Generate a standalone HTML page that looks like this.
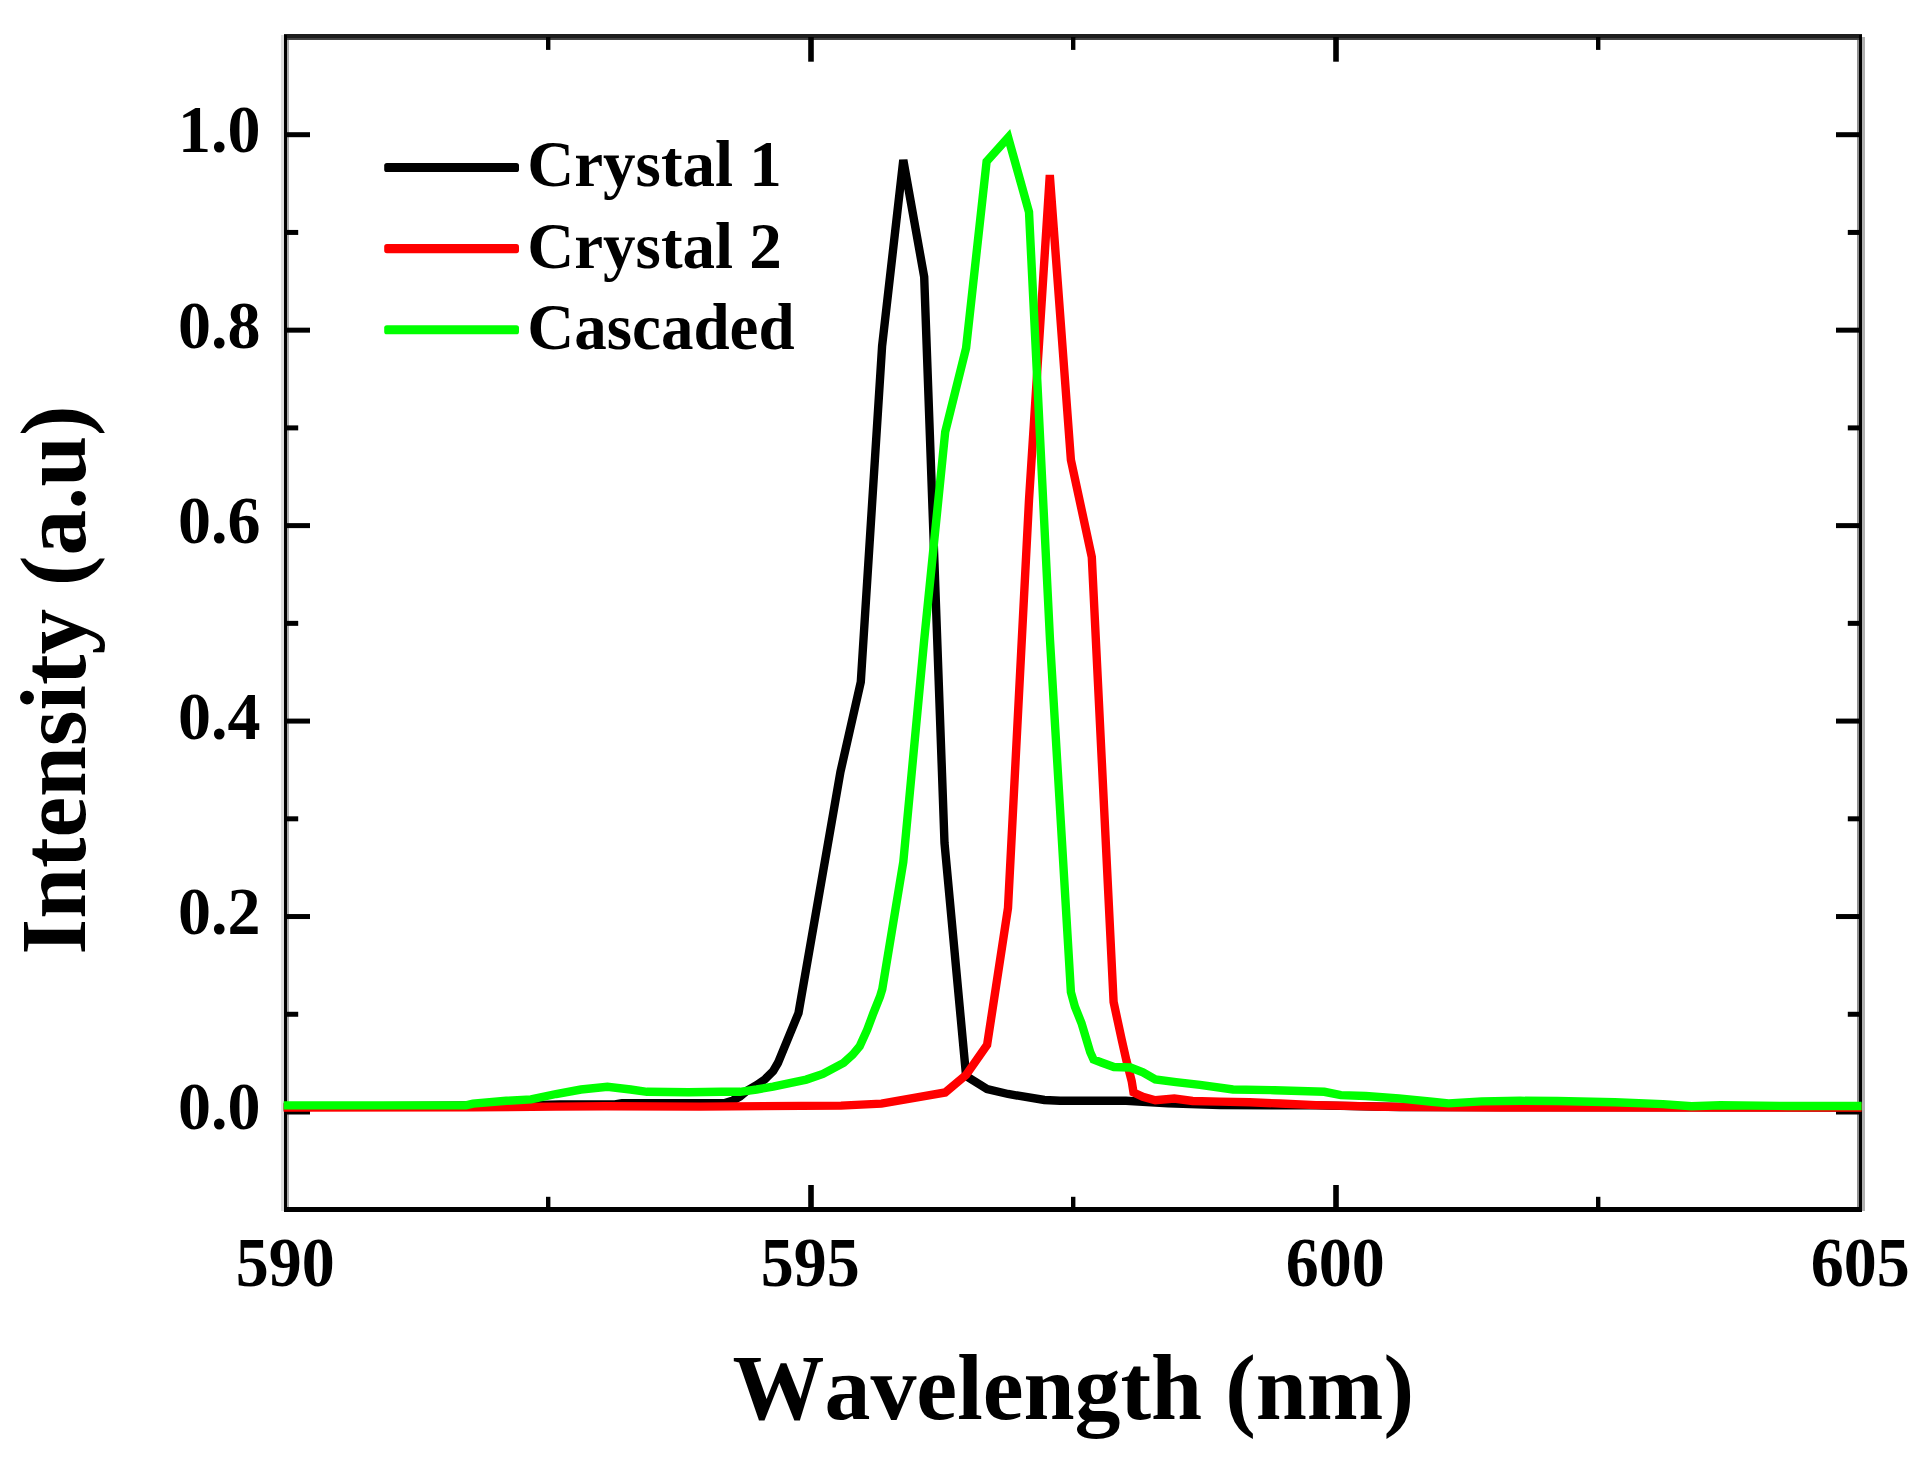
<!DOCTYPE html>
<html lang="en"><head><meta charset="utf-8"><title>Spectra of Crystal 1, Crystal 2 and Cascaded</title>
<style>
html,body{margin:0;padding:0;background:#fff;}
body{width:1931px;height:1468px;overflow:hidden;}
svg{display:block;}
text{font-family:"Liberation Serif",serif;font-weight:bold;fill:#000;font-kerning:none;}
</style></head><body>
<svg width="1931" height="1468" viewBox="0 0 1931 1468">
<rect x="0" y="0" width="1931" height="1468" fill="#fff"/>
<defs><clipPath id="plot"><rect x="283.7" y="37.2" width="1577.9" height="1172.3"/></clipPath></defs>
<g shape-rendering="crispEdges">
<rect x="283.8" y="34.4" width="1578.2" height="3.3" fill="#1e1e1e"/>
<rect x="283.8" y="37.7" width="1578.2" height="2.4" fill="#444"/>
<rect x="283.8" y="1206.8" width="1578.2" height="5.4" fill="#000"/>
<rect x="281.2" y="35" width="2.6" height="1176" fill="#dedede"/>
<rect x="286.5" y="40" width="2.5" height="1167" fill="#acacac"/>
<rect x="283.8" y="35" width="2.7" height="1177.2" fill="#000"/>
<rect x="1856.6" y="40" width="2.4" height="1167" fill="#909090"/>
<rect x="1862" y="37" width="2.7" height="1174" fill="#b0b0b0"/>
<rect x="1859" y="35" width="3" height="1177.2" fill="#000"/>
</g>
<g stroke="#000" stroke-width="5" fill="none">
<line x1="548.20" y1="1209" x2="548.20" y2="1196.8" stroke-width="4.4"/>
<line x1="548.20" y1="37" x2="548.20" y2="49.9" stroke-width="4.4"/>
<line x1="811.00" y1="1209" x2="811.00" y2="1185.0" stroke-width="5.6"/>
<line x1="811.00" y1="37" x2="811.00" y2="61.7" stroke-width="5.6"/>
<line x1="1073.20" y1="1209" x2="1073.20" y2="1196.8" stroke-width="4.4"/>
<line x1="1073.20" y1="37" x2="1073.20" y2="49.9" stroke-width="4.4"/>
<line x1="1336.00" y1="1209" x2="1336.00" y2="1185.0" stroke-width="5.6"/>
<line x1="1336.00" y1="37" x2="1336.00" y2="61.7" stroke-width="5.6"/>
<line x1="1598.20" y1="1209" x2="1598.20" y2="1196.8" stroke-width="4.4"/>
<line x1="1598.20" y1="37" x2="1598.20" y2="49.9" stroke-width="4.4"/>
<line x1="285" y1="1112.00" x2="310.0" y2="1112.00"/>
<line x1="1860.5" y1="1112.00" x2="1836.0" y2="1112.00"/>
<line x1="285" y1="1014.27" x2="298.2" y2="1014.27"/>
<line x1="1860.5" y1="1014.27" x2="1847.8" y2="1014.27"/>
<line x1="285" y1="916.54" x2="310.0" y2="916.54"/>
<line x1="1860.5" y1="916.54" x2="1836.0" y2="916.54"/>
<line x1="285" y1="818.81" x2="298.2" y2="818.81"/>
<line x1="1860.5" y1="818.81" x2="1847.8" y2="818.81"/>
<line x1="285" y1="721.08" x2="310.0" y2="721.08"/>
<line x1="1860.5" y1="721.08" x2="1836.0" y2="721.08"/>
<line x1="285" y1="623.35" x2="298.2" y2="623.35"/>
<line x1="1860.5" y1="623.35" x2="1847.8" y2="623.35"/>
<line x1="285" y1="525.62" x2="310.0" y2="525.62"/>
<line x1="1860.5" y1="525.62" x2="1836.0" y2="525.62"/>
<line x1="285" y1="427.89" x2="298.2" y2="427.89"/>
<line x1="1860.5" y1="427.89" x2="1847.8" y2="427.89"/>
<line x1="285" y1="330.16" x2="310.0" y2="330.16"/>
<line x1="1860.5" y1="330.16" x2="1836.0" y2="330.16"/>
<line x1="285" y1="232.43" x2="298.2" y2="232.43"/>
<line x1="1860.5" y1="232.43" x2="1847.8" y2="232.43"/>
<line x1="285" y1="134.70" x2="310.0" y2="134.70"/>
<line x1="1860.5" y1="134.70" x2="1836.0" y2="134.70"/>
</g>
<g clip-path="url(#plot)" fill="none" stroke-linejoin="miter" stroke-miterlimit="3" stroke-linecap="butt">
<polyline points="280.0,1107.0 540.0,1105.0 560.0,1104.4 615.0,1104.4 622.0,1103.2 725.0,1103.0 733.0,1100.5 740.0,1096.5 746.6,1091.0 756.6,1085.2 764.9,1079.4 773.1,1071.1 777.9,1063.0 798.5,1013.0 840.4,772.0 860.8,682.0 882.1,346.0 903.3,160.0 924.2,277.0 944.5,843.0 966.1,1076.0 987.1,1089.0 1008.0,1094.0 1044.4,1100.0 1060.0,1100.8 1126.0,1100.8 1168.0,1103.4 1220.0,1105.0 1316.0,1105.4 1400.0,1107.0 1870.0,1107.5" stroke="#000" stroke-width="8.4"/>
<polyline points="280.0,1107.5 473.0,1107.2 556.0,1106.6 605.7,1106.2 700.0,1106.6 841.0,1105.6 881.4,1103.6 945.2,1092.5 966.1,1075.0 987.1,1045.0 1008.0,908.0 1029.0,500.0 1049.8,175.0 1070.9,460.0 1091.8,557.0 1113.6,1002.0 1121.7,1039.7 1126.4,1060.4 1131.7,1081.1 1133.5,1092.5 1142.9,1096.9 1155.3,1100.2 1174.3,1098.5 1192.6,1101.0 1220.0,1101.6 1249.7,1102.3 1280.0,1103.5 1316.0,1105.1 1382.3,1106.7 1500.0,1107.5 1870.0,1107.5" stroke="#ff0000" stroke-width="8.4"/>
<polyline points="280.0,1105.4 466.0,1105.4 473.0,1103.6 506.3,1100.8 531.0,1099.4 556.0,1094.0 581.0,1089.5 607.4,1086.8 630.6,1089.5 647.0,1091.8 688.6,1092.3 721.7,1091.8 740.0,1091.8 756.6,1089.5 773.1,1086.7 789.7,1083.1 806.3,1079.6 822.9,1074.0 843.6,1062.9 852.7,1054.6 859.7,1046.3 867.2,1029.7 873.4,1013.1 880.0,996.6 882.3,989.0 903.3,862.0 924.2,640.0 945.2,432.0 966.1,348.0 986.6,161.5 1008.2,137.5 1029.0,212.0 1050.0,640.0 1070.9,992.0 1074.9,1006.6 1081.5,1023.1 1086.5,1039.7 1090.2,1052.1 1093.5,1059.5 1101.4,1062.5 1113.9,1067.0 1130.4,1067.5 1142.9,1072.4 1155.3,1079.5 1176.0,1082.1 1200.0,1084.9 1233.0,1089.5 1274.6,1090.2 1324.3,1091.8 1340.9,1095.1 1365.7,1096.0 1398.9,1098.4 1432.0,1101.8 1448.6,1103.4 1481.7,1101.4 1520.0,1100.8 1557.5,1101.0 1615.0,1102.2 1663.0,1104.1 1691.6,1106.2 1720.4,1105.2 1787.4,1106.0 1870.0,1106.0" stroke="#00ff00" stroke-width="8.4"/>
</g>
<g font-size="66" text-anchor="middle">
<text transform="translate(285.2,1285.6) scale(1,1.07)">590</text>
<text transform="translate(810.2,1285.6) scale(1,1.07)">595</text>
<text transform="translate(1335.2,1285.6) scale(1,1.07)">600</text>
<text transform="translate(1860.2,1285.6) scale(1,1.07)">605</text>
</g>
<g font-size="66" text-anchor="end">
<text transform="translate(260.5,1129.4) scale(1,1.04)">0.0</text>
<text transform="translate(260.5,933.9) scale(1,1.04)">0.2</text>
<text transform="translate(260.5,738.5) scale(1,1.04)">0.4</text>
<text transform="translate(260.5,543.0) scale(1,1.04)">0.6</text>
<text transform="translate(260.5,347.6) scale(1,1.04)">0.8</text>
<text transform="translate(260.5,152.1) scale(1,1.04)">1.0</text>
</g>
<rect x="384.2" y="162.95" width="134.8" height="9.1" rx="2.6" ry="2.6" fill="#000"/>
<rect x="384.2" y="244.05" width="134.8" height="9.1" rx="2.6" ry="2.6" fill="#ff0000"/>
<rect x="384.2" y="325.15" width="134.8" height="9.1" rx="2.6" ry="2.6" fill="#00ff00"/>
<g font-size="65">
<text transform="translate(527.3,186.4) scale(1,1.0)">Crystal 1</text>
<text transform="translate(527.3,267.5) scale(1,1.0)">Crystal 2</text>
<text transform="translate(527.3,348.6) scale(1,1.0)">Cascaded</text>
</g>
<text transform="translate(1073.3,1418.8) scale(1,1.02)" font-size="91.9" text-anchor="middle">Wavelength (nm)</text>
<text transform="translate(84.5,680) rotate(-90) scale(1,1.02)" font-size="91.5" text-anchor="middle">Intensity (a.u)</text>
</svg>
</body></html>
